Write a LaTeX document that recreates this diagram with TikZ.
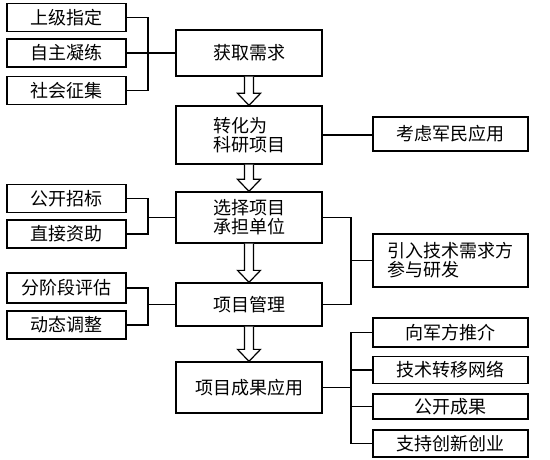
\documentclass[tikz,border=0pt]{standalone}
\usepackage{fontspec}
\setmainfont{Noto Sans CJK SC}
\usetikzlibrary{calc}
\newcommand{\bigarrow}[2]{%
  \draw[arrowline] ($(#1.south)+(-4.5,0)$) -- ($(#2.north)+(-4.5,12)$)
    -- ($(#2.north)+(-11.5,12)$) -- (#2.north) -- ($(#2.north)+(11.5,12)$)
    -- ($(#2.north)+(4.5,12)$) -- ($(#1.south)+(4.5,0)$);}
\begin{document}
\begin{tikzpicture}[x=1pt, y=1pt, line width=1.3pt,
    box/.style={draw, inner sep=2pt, font=\fontsize{18}{19}\selectfont, align=left},
    mainbox/.style={box, minimum width=146pt},
    leftbox/.style={box, minimum width=119pt, minimum height=28pt},
    rightbox/.style={box, minimum width=155pt},
    arrowline/.style={line width=1.2pt, fill=white, line join=miter}]
    \useasboundingbox[fill=white] (0, 0) rectangle (550, -460);
    % main column
    \node[mainbox, minimum height=46pt] (req) at (249, -53) {获取需求};
    \node[mainbox, minimum height=58pt] (conv) at (249, -135) {转化为\\科研项目};
    \node[mainbox, minimum height=51pt] (sel) at (249, -217.5) {选择项目\\承担单位};
    \node[mainbox, minimum height=43pt] (mgmt) at (249, -304.5) {项目管理};
    \node[mainbox, minimum height=51pt] (app) at (249, -387.5) {项目成果应用};
    \bigarrow{req}{conv}
    \bigarrow{conv}{sel}
    \bigarrow{sel}{mgmt}
    \bigarrow{mgmt}{app}
    % left side
    \node[leftbox] (a1) at (66.5, -17.5) {上级指定};
    \node[leftbox] (a2) at (66.5, -53) {自主凝练};
    \node[leftbox] (a3) at (66.5, -90.5) {社会征集};
    \node[leftbox] (b1) at (66.5, -198.5) {公开招标};
    \node[leftbox] (b2) at (66.5, -234) {直接资助};
    \node[leftbox, minimum height=30pt] (c1) at (66.5, -288) {分阶段评估};
    \node[leftbox] (c2) at (66.5, -325) {动态调整};
    \coordinate (ja) at (148, -53);
    \coordinate (jb) at (148, -217.5);
    \coordinate (jc) at (148, -304.5);
    \draw (a1.east) -| (ja) |- (a3.east);
    \draw (a2.east) -- (req.west);
    \draw (b1.east) -| (jb) |- (b2.east);
    \draw (jb) -- (sel.west);
    \draw (c1.east) -| (jc) |- (c2.east);
    \draw (jc) -- (mgmt.west);
    % right side
    \node[rightbox, minimum height=34pt] (r1) at (450.5, -134) {考虑军民应用};
    \node[rightbox, minimum height=53pt] (r2) at (450.5, -260.5) {引入技术需求方\\参与研发};
    \node[rightbox, minimum height=29pt] (r3) at (450.5, -332.5) {向军方推介};
    \node[rightbox, minimum height=27pt] (r4) at (450.5, -370) {技术转移网络};
    \node[rightbox, minimum height=25pt] (r5) at (450.5, -406.5) {公开成果};
    \node[rightbox, minimum height=27pt] (r6) at (450.5, -443.5) {支持创新创业};
    \coordinate (jd) at (351, -260.5);
    \coordinate (je) at (351, -387.5);
    \draw (conv.east) -- (conv.east -| r1.west);
    \draw (sel.east) -| (jd) |- (mgmt.east);
    \draw (jd) -- (r2.west);
    \draw (r3.west) -| (je) |- (r6.west);
    \draw (app.east) -- (je);
    \foreach \r in {r4, r5}
        \draw (\r.west) -- (\r.west -| je);
\end{tikzpicture}
\end{document}
